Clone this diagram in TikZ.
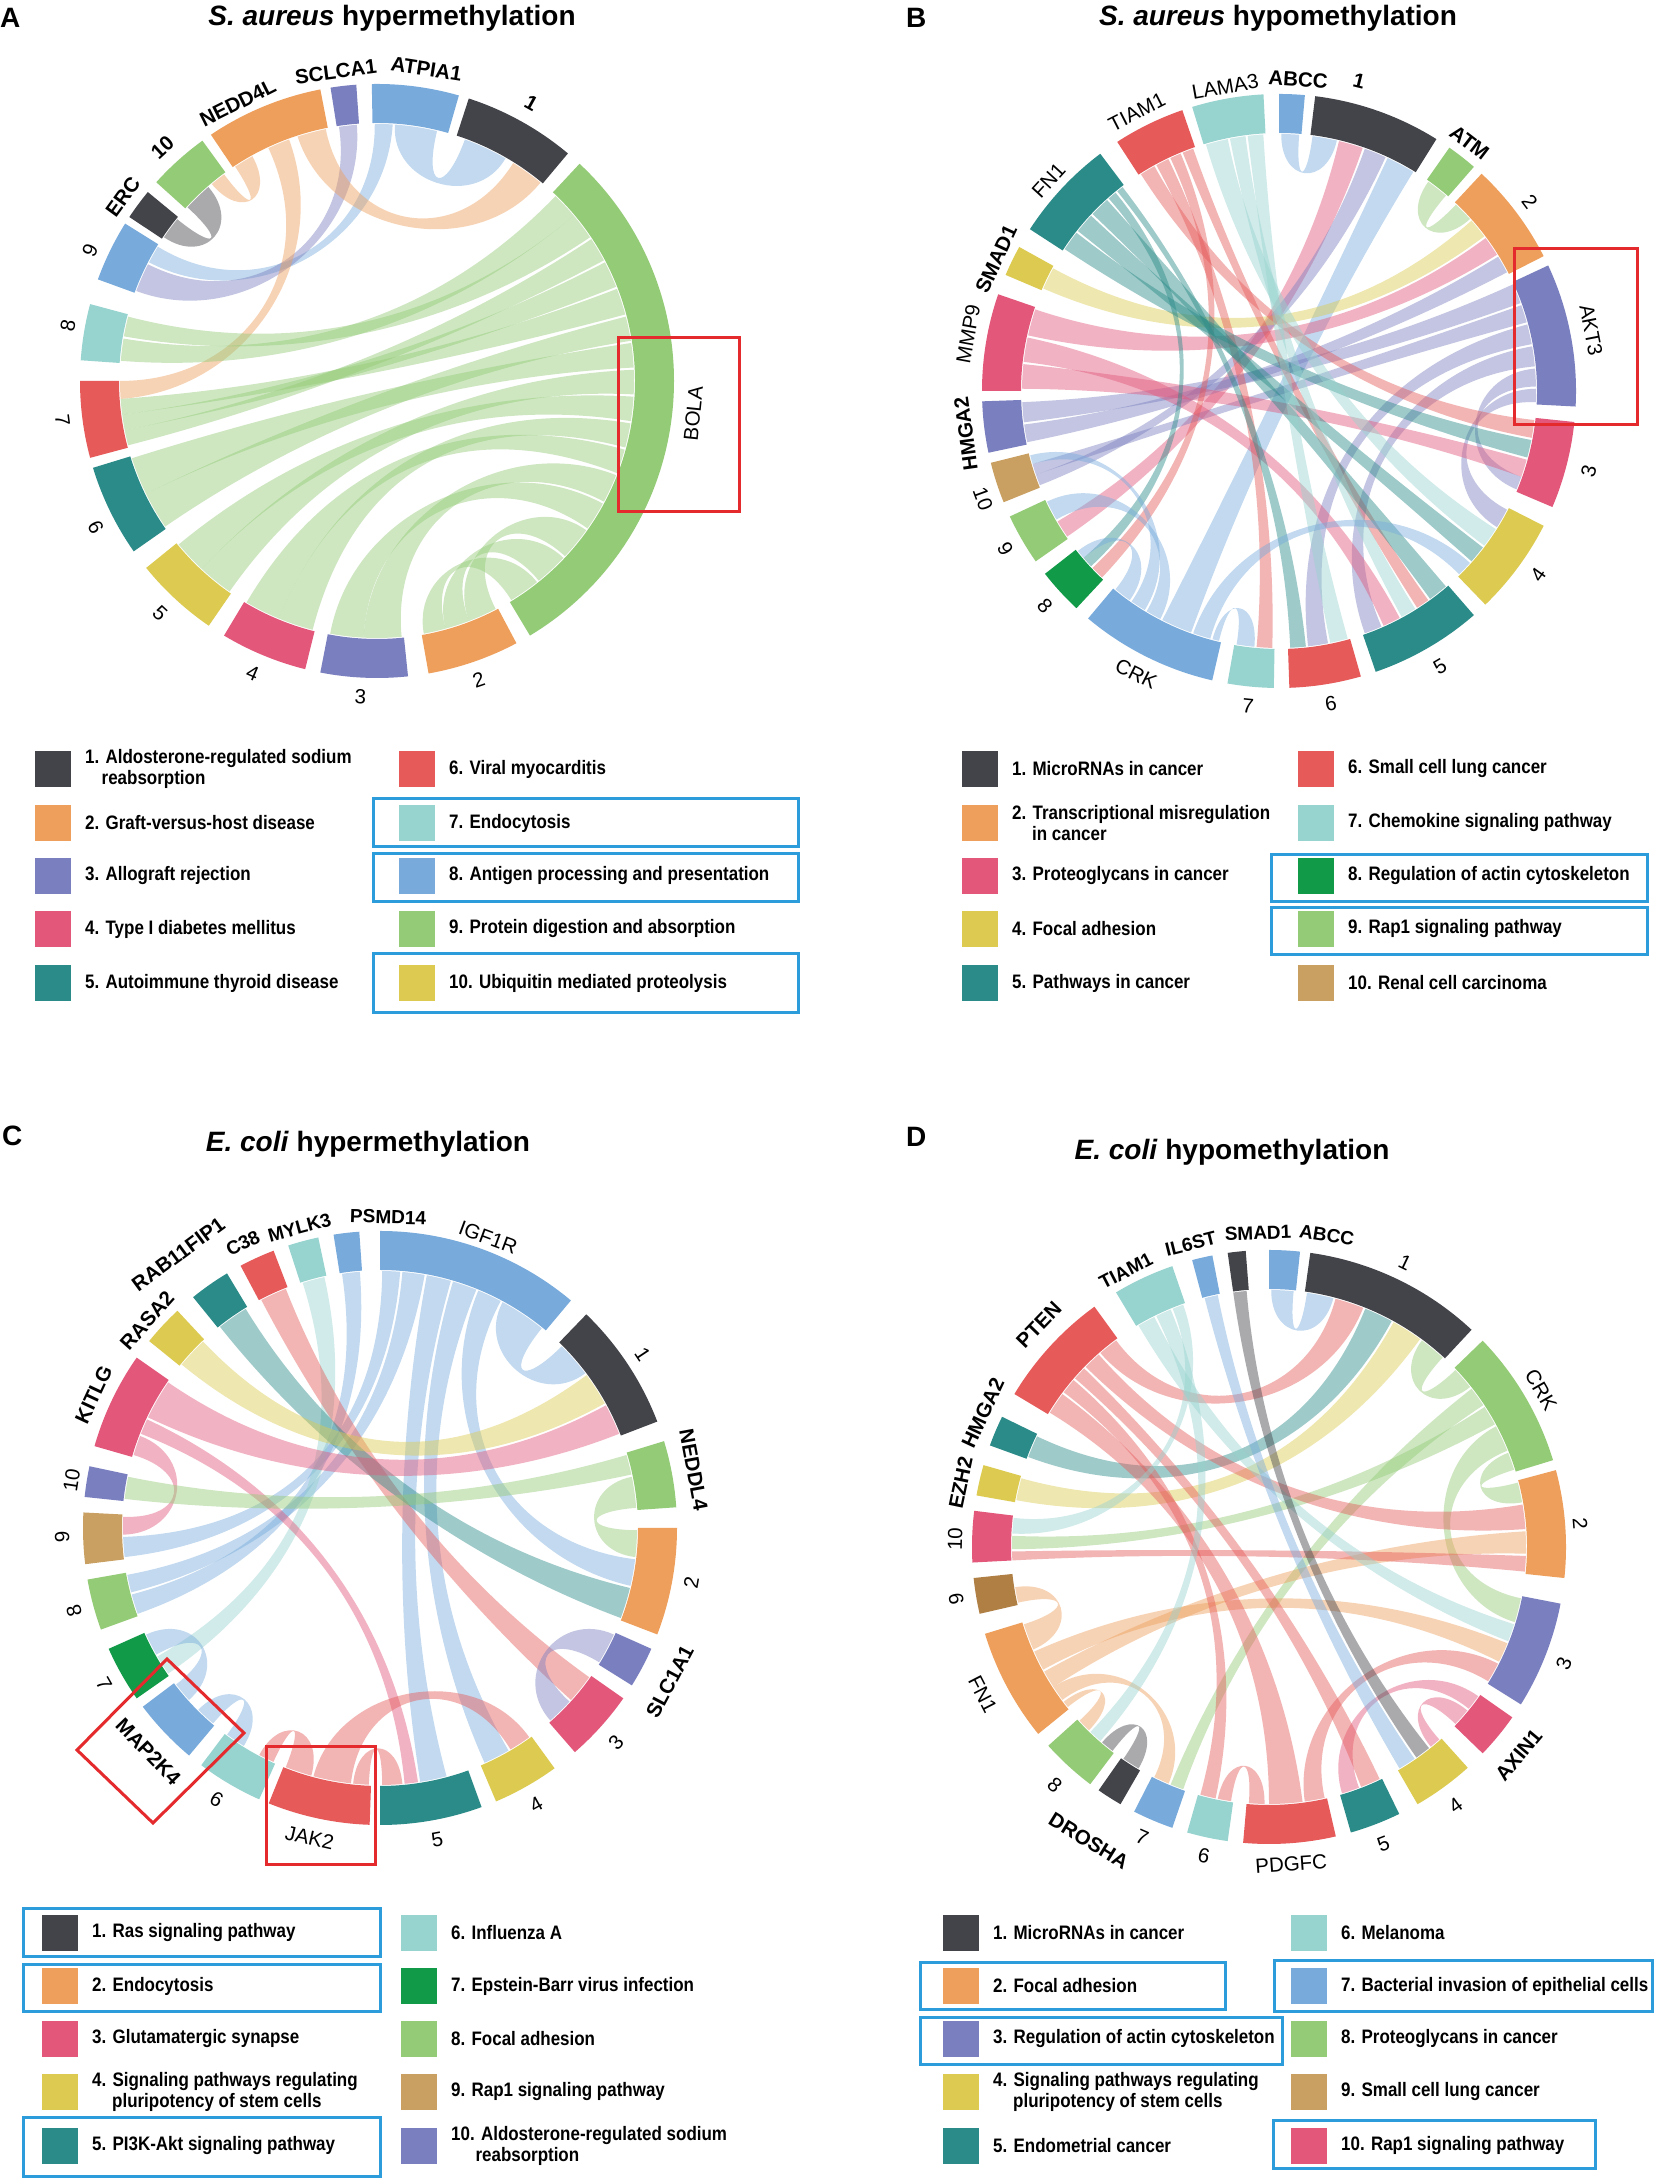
\documentclass[tikz,border=0pt]{standalone}
\usepackage{fontspec}
\setmainfont{Liberation Sans}
\definecolor{cDark}{HTML}{43444A}
\definecolor{cOrange}{HTML}{EE9F5C}
\definecolor{cPurple}{HTML}{7A7FBF}
\definecolor{cPink}{HTML}{E2577A}
\definecolor{cTeal}{HTML}{2A8B88}
\definecolor{cRed}{HTML}{E65A5A}
\definecolor{cLTeal}{HTML}{97D3CF}
\definecolor{cBlue}{HTML}{78ABDC}
\definecolor{cGreen}{HTML}{94CB77}
\definecolor{cYellow}{HTML}{DCCB50}
\definecolor{cDGreen}{HTML}{119A48}
\definecolor{cTan}{HTML}{C9A062}
\definecolor{cBrown}{HTML}{B07F44}
\definecolor{cBox}{HTML}{2D9CDB}
\definecolor{cRedBox}{HTML}{E52A2E}
\def\Rin{258}\def\Rout{297}\def\Rc{257}
\newcommand\seg[3]{\fill[#3] (#1:\Rin) arc[start angle=#1,end angle=#2,radius=\Rin] -- (#2:\Rout) arc[start angle=#2,end angle=#1,radius=\Rout] -- cycle;}
\newcommand\rib[5]{%
 \pgfmathsetmacro\ribd{abs(mod(((#1)+(#2))/2-((#3)+(#4))/2+900,360)-180)}%
 \pgfmathsetmacro\ribk{(0.35+0.5*max(0,1-\ribd/100))*\Rc}%
 \fill[#5,fill opacity=.45] (#1:\Rc) arc[start angle=#1,end angle=#2,radius=\Rc]
   .. controls (#2:\ribk) and (#3:\ribk) .. (#3:\Rc)
   arc[start angle=#3,end angle=#4,radius=\Rc]
   .. controls (#4:\ribk) and (#1:\ribk) .. (#1:\Rc) -- cycle;}
\newcommand\legrow[5]{\fill[#3] ({#1},{#2-18}) rectangle ++(36,36); \node[legtext] (#5) at ({#1+50},{#2}) {#4};}
\tikzset{
 gb/.style={font=\fontsize{20.5}{21}\selectfont\bfseries, inner sep=0pt},
 gr/.style={font=\fontsize{20.5}{21}\selectfont, inner sep=0pt},
 gs/.style={font=\fontsize{19}{20}\selectfont\bfseries, inner sep=0pt},
 ttl/.style={font=\fontsize{28}{30}\selectfont\bfseries, inner sep=0pt},
 legtext/.style={font=\bfseries\fontsize{19.5}{21}\selectfont, xscale=0.87, inner sep=0pt, align=left, anchor=west},
 bluebox/.style={draw=cBox, line width=3pt},
 redbox/.style={draw=cRedBox, line width=3pt},
}
\begin{document}
\begin{tikzpicture}[x=1pt,y=1pt]
\useasboundingbox[fill=white] (0,0) rectangle (1654,2179);

% ================= PANEL A =================
\node[ttl,anchor=west] (lA) at (0,2161) {A};
\node[ttl] (tA) at (392,2161) {\textit{S. aureus} hypermethylation};
\begin{scope}[shift={(377,1798)}]
\rib{86}{76.5}{70}{60}{cBlue}
\rib{90.5}{86.5}{152.5}{148.5}{cBlue}
\rib{98.5}{94.5}{159.5}{153}{cPurple}
\rib{108}{101.5}{58}{50.5}{cOrange}
\rib{115}{110}{-176}{-180}{cOrange}
\rib{123.5}{119}{130}{126.5}{cOrange}
\rib{146}{141}{137.5}{131}{cDark}
\rib{46}{40}{175.5}{170.5}{cGreen}
\rib{40}{34}{170}{165.5}{cGreen}
\rib{33.5}{28}{-165.5}{-169}{cGreen}
\rib{27.5}{21.5}{-169}{-172.5}{cGreen}
\rib{21}{15}{-172.5}{-176}{cGreen}
\rib{14.5}{9}{-145.5}{-154}{cGreen}
\rib{8.5}{3}{-154}{-162.5}{cGreen}
\rib{2.5}{-3}{-125}{-133}{cGreen}
\rib{-3.5}{-9}{-133}{-140.5}{cGreen}
\rib{-9.5}{-15}{-104.5}{-112.5}{cGreen}
\rib{-15.5}{-21}{-112.5}{-120.5}{cGreen}
\rib{-21.5}{-28}{-84.5}{-93}{cGreen}
\rib{-28.5}{-35}{-93}{-100.5}{cGreen}
\rib{-35.5}{-43}{-62.5}{-69}{cGreen}
\rib{-43.5}{-51}{-69}{-74.5}{cGreen}
\rib{-51.5}{-58.5}{-74.5}{-79.5}{cGreen}
\seg{91}{74}{cBlue}
\seg{72}{50}{cDark}
\seg{47}{-59}{cGreen}
\seg{-62}{-80}{cOrange}
\seg{-84}{-101}{cPurple}
\seg{-104}{-121}{cPink}
\seg{-124.5}{-141}{cYellow}
\seg{-145}{-163}{cTeal}
\seg{-165}{-180}{cRed}
\seg{176}{165}{cLTeal}
\seg{160}{148}{cBlue}
\seg{146.5}{140.5}{cDark}
\seg{138}{126}{cGreen}
\seg{124}{101}{cOrange}
\seg{99}{94}{cPurple}
\node[gb,rotate=-29] (A1) at (61:318) {1};
\node[gb,rotate=-9] (Aatp) at (81:316) {ATPIA1};
\node[gb,rotate=7.6] (Ascl) at (97.6:312) {SCLCA1};
\node[gb,rotate=26.6] (Aned) at (116.6:311) {NEDD4L};
\node[gb,rotate=42.6] (A10) at (132.6:317) {10};
\node[gb,rotate=54] (Aerc) at (144:314) {ERC};
\node[gr,rotate=65.6] (A9) at (155.6:315) {9};
\node[gr,rotate=79.8] (A8) at (169.8:314) {8};
\node[gr,rotate=-82.8] (A7) at (-172.8:317) {7};
\node[gr,rotate=-62.5] (A6) at (-152.5:317) {6};
\node[gr,rotate=-43] (A5) at (-133:318) {5};
\node[gr,rotate=-23] (A4) at (-113:318) {4};
\node[gr,rotate=-3] (A3) at (-93:316) {3};
\node[gr,rotate=18.8] (A2) at (-71.2:316) {2};
\node[gr,rotate=84.1] (Abola) at (-5.9:318) {BOLA};
\end{scope}
\draw[redbox] (618,1841) rectangle (739,1667);

% ================= PANEL B =================
\node[ttl,anchor=west] (lB) at (906,2161) {B};
\node[ttl] (tB) at (1278,2161) {\textit{S. aureus} hypomethylation};
\begin{scope}[shift={(1279,1788)}]
\rib{89.5}{85.5}{82.5}{77}{cBlue}
\rib{76.5}{71}{-145.5}{-149.5}{cPink}
\rib{70.5}{65.5}{-158.5}{-161}{cPurple}
\rib{65}{58.5}{-110}{-117}{cBlue}
\rib{54.5}{49.5}{46.5}{42}{cGreen}
\rib{156.5}{151.5}{41.5}{37}{cYellow}
\rib{167.5}{161.5}{36.5}{32}{cPink}
\rib{-168.5}{-172.5}{31.5}{27.5}{cPurple}
\rib{24.5}{20}{-173}{-177.5}{cPurple}
\rib{19.5}{15.5}{-161}{-163.5}{cPurple}
\rib{15}{10.5}{-79}{-83.5}{cPurple}
\rib{10}{5.5}{-66.5}{-70.5}{cPurple}
\rib{5}{1}{-19.5}{-22.5}{cPurple}
\rib{0.5}{-2.5}{-27.5}{-32}{cPurple}
\rib{179.5}{174}{-15.5}{-19.5}{cPink}
\rib{173.5}{168}{-62}{-66}{cPink}
\rib{122.5}{119}{-6.5}{-10.5}{cRed}
\rib{118.5}{115.5}{-91.5}{-95}{cRed}
\rib{115}{112.5}{-133.5}{-136.5}{cRed}
\rib{112}{109.5}{-54.5}{-57.5}{cRed}
\rib{146.5}{142}{-11}{-15}{cTeal}
\rib{141.5}{137}{-37.5}{-41.5}{cTeal}
\rib{136.5}{132}{-49.5}{-54}{cTeal}
\rib{131.5}{129.5}{-137}{-139.5}{cTeal}
\rib{129}{127.5}{-84}{-87.5}{cTeal}
\rib{106.5}{101.5}{-32.5}{-37}{cLTeal}
\rib{101}{97.5}{-58}{-61.5}{cLTeal}
\rib{97}{93.5}{-74.5}{-78.5}{cLTeal}
\rib{-103.5}{-105}{-95.5}{-99.5}{cBlue}
\rib{-105.5}{-109.5}{-42}{-45.5}{cBlue}
\rib{-117.5}{-121}{-150}{-154.5}{cBlue}
\rib{-121.5}{-125}{-163.5}{-165.5}{cBlue}
\rib{-125.5}{-129.5}{-139.5}{-141.5}{cBlue}
\seg{90}{85}{cBlue}
\seg{83}{58}{cDark}
\seg{55}{49}{cGreen}
\seg{47}{27}{cOrange}
\seg{25}{-3}{cPurple}
\seg{-6}{-23}{cPink}
\seg{-27}{-46}{cYellow}
\seg{-49}{-71}{cTeal}
\seg{-74}{-88}{cRed}
\seg{-91}{-100}{cLTeal}
\seg{-103}{-130}{cBlue}
\seg{-133}{-142}{cDGreen}
\seg{-145}{-155}{cGreen}
\seg{-158}{-166}{cTan}
\seg{-168}{-178}{cPurple}
\seg{180}{161}{cPink}
\seg{157}{151}{cYellow}
\seg{147}{127}{cTeal}
\seg{123}{109}{cRed}
\seg{107}{93}{cLTeal}
\node[gb,rotate=-4] (Babcc) at (86.5:312) {ABCC};
\node[gb,rotate=-14] (B1) at (75.5:320) {1};
\node[gb,rotate=-37.5] (Batm) at (52.5:313) {ATM};
\node[gr,rotate=-53] (B2) at (37:314) {2};
\node[gr,rotate=-79] (Bakt) at (11:318) {AKT3};
\node[gr,rotate=75.5] (B3) at (-14.5:320) {3};
\node[gr,rotate=54.6] (B4) at (-35.4:318) {4};
\node[gr,rotate=30.3] (B5) at (-59.7:319) {5};
\node[gr,rotate=9.4] (B6) at (-80.6:317) {6};
\node[gr,rotate=-5.6] (B7) at (-95.6:317) {7};
\node[gr,rotate=-26.8] (Bcrk) at (-116.8:317) {CRK};
\node[gr,rotate=-47.4] (B8) at (-137.4:318) {8};
\node[gr,rotate=-60] (B9) at (-150:316) {9};
\node[gr,rotate=-70] (B10) at (-160:315) {10};
\node[gb,rotate=97.8] (Bhmga) at (-172.2:316) {HMGA2};
\node[gr,rotate=79.6] (Bmmp) at (169.6:316) {MMP9};
\node[gb,rotate=65] (Bsmad) at (155:312) {SMAD1};
\node[gr,rotate=47.6] (Bfn) at (137.6:312) {FN1};
\node[gr,rotate=27] (Btiam) at (117:313) {TIAM1};
\node[gr,rotate=10] (Blama) at (100:309) {LAMA3};
\end{scope}
\draw[redbox] (1514,1930) rectangle (1637,1754);

% ================= PANEL C =================
\node[ttl,anchor=west] (lC) at (2,1043) {C};
\node[ttl] (tC) at (368,1035) {\textit{E. coli} hypermethylation};
\begin{scope}[shift={(380,651)}]
\rib{89.5}{85.5}{186.5}{182}{cBlue}
\rib{85}{80}{-165.5}{-169.5}{cBlue}
\rib{79.5}{74}{-75}{-81}{cBlue}
\rib{73.5}{68}{-60}{-66}{cBlue}
\rib{67.5}{62}{-7}{-13}{cBlue}
\rib{61.5}{51}{45}{37}{cBlue}
\rib{98.5}{94.5}{-160.5}{-165}{cBlue}
\rib{107.5}{102.5}{-145.5}{-150}{cLTeal}
\rib{117.5}{111.5}{-35.5}{-42}{cRed}
\rib{128.5}{121.5}{-13.5}{-20.5}{cTeal}
\rib{140.5}{133.5}{36.5}{29}{cYellow}
\rib{163.5}{159}{181.5}{177.5}{cPink}
\rib{158.5}{155}{-81.5}{-84.5}{cPink}
\rib{154.5}{145.5}{28.5}{21.5}{cPink}
\rib{16.5}{12}{173.5}{168.5}{cGreen}
\rib{11.5}{4.5}{-0.5}{-6.5}{cGreen}
\rib{-24.5}{-31.5}{-42.5}{-48.5}{cPurple}
\rib{-92.5}{-96}{-85}{-89.5}{cRed}
\rib{-96.5}{-105}{-54.5}{-59.5}{cRed}
\rib{-105.5}{-111.5}{-114.5}{-118}{cRed}
\rib{-130.5}{-135}{-122}{-126.5}{cBlue}
\rib{-138}{-142.5}{-150.5}{-155.5}{cBlue}
\seg{90}{50}{cBlue}
\seg{46}{21}{cDark}
\seg{17}{4}{cGreen}
\seg{0}{-21}{cOrange}
\seg{-24}{-32}{cPurple}
\seg{-35}{-49}{cPink}
\seg{-54}{-67}{cYellow}
\seg{-70}{-90}{cTeal}
\seg{-92}{-112}{cRed}
\seg{-114}{-127}{cLTeal}
\seg{-130}{-143}{cBlue}
\seg{-145}{-156}{cDGreen}
\seg{-160}{-170}{cGreen}
\seg{187}{177}{cTan}
\seg{174}{168}{cPurple}
\seg{164}{145}{cPink}
\seg{141}{133}{cYellow}
\seg{129}{121}{cTeal}
\seg{118}{111}{cRed}
\seg{108}{102}{cLTeal}
\seg{99}{94}{cBlue}
\node[gr,rotate=-20.4] (Cigf) at (69.6:310) {IGF1R};
\node[gr,rotate=-56.5] (C1) at (33.5:315) {1};
\node[gb,rotate=-79.5] (Cned) at (10.5:319) {NEDDL4};
\node[gr,rotate=80] (C2) at (-10:316) {2};
\node[gb,rotate=62] (Cslc) at (-27.9:328) {SLC1A1};
\node[gr,rotate=47.7] (C3) at (-42.3:319) {3};
\node[gr,rotate=29.4] (C4) at (-60.6:318) {4};
\node[gr,rotate=10.4] (C5) at (-79.6:317) {5};
\node[gr,rotate=-12.8] (Cjak) at (-102.8:318) {JAK2};
\node[gr,rotate=-31] (C6) at (-121:317) {6};
\node[gb,rotate=-46] (Cmap) at (-136:322) {MAP2K4};
\node[gr,rotate=-60.5] (C7) at (-150.5:317) {7};
\node[gr,rotate=105.2] (C8) at (-164.8:317) {8};
\node[gr,rotate=91.6] (C9) at (-178.4:318) {9};
\node[gr,rotate=81.2] (C10) at (171.2:312) {10};
\node[gb,rotate=65] (Ckit) at (155:316) {KITLG};
\node[gb,rotate=48.3] (Cras) at (138.3:312) {RASA2};
\node[gb,rotate=36.4] (Crab) at (126.4:340) {RAB11FIP1};
\node[gs,rotate=25.7] (Cc38) at (115.7:316) {C38};
\node[gs,rotate=15] (Cmyl) at (105:311) {MYLK3};
\node[gs,rotate=-1.5] (Cpsm) at (88.5:311) {PSMD14};
\end{scope}
\draw[redbox] (266,432) rectangle (375,314);
\draw[redbox] (77,429) -- (167,520) -- (244,446) -- (153,356) -- cycle;

% ================= PANEL D =================
\node[ttl,anchor=west] (lD) at (906,1042) {D};
\node[ttl] (tD) at (1232,1027) {\textit{E. coli} hypomethylation};
\begin{scope}[shift={(1269,632)}]
\rib{89.5}{84.5}{81.5}{75.5}{cBlue}
\rib{131}{126.5}{75}{68.5}{cRed}
\rib{159.5}{154.5}{68}{61.5}{cTeal}
\rib{169.5}{164.5}{61}{54}{cYellow}
\rib{43.5}{38.5}{53.5}{47.5}{cGreen}
\rib{38}{33.5}{-109.5}{-112.5}{cGreen}
\rib{33}{28.5}{180.5}{177.5}{cGreen}
\rib{28}{22}{-11.5}{-17}{cGreen}
\rib{21.5}{17.5}{14.5}{10}{cGreen}
\rib{135.5}{131.5}{9.5}{4}{cRed}
\rib{-147}{-151}{3.5}{-1.5}{cOrange}
\rib{183}{181}{-2}{-5.5}{cRed}
\rib{120.5}{116.5}{-17.5}{-21.5}{cLTeal}
\rib{-151.5}{-156}{-22}{-26.5}{cOrange}
\rib{-77.5}{-82}{-27}{-31.5}{cRed}
\rib{-35.5}{-39}{-69.5}{-73.5}{cPink}
\rib{-39.5}{-43.5}{-48.5}{-51}{cPink}
\rib{98}{95}{-51.5}{-55}{cDark}
\rib{104.5}{101.5}{-55.5}{-59.5}{cBlue}
\rib{139}{136}{-64.5}{-69}{cRed}
\rib{148.5}{143.5}{-82.5}{-90}{cRed}
\rib{143}{139.5}{-102}{-105.5}{cRed}
\rib{-91}{-94.5}{-98.5}{-101.5}{cRed}
\rib{-143.5}{-147}{-113}{-116.5}{cOrange}
\rib{-120.5}{-124.5}{-127.5}{-130.5}{cDark}
\rib{116}{112.5}{-131}{-134}{cLTeal}
\rib{-141.5}{-143}{-134.5}{-137.5}{cOrange}
\rib{-156.5}{-162.5}{192.5}{189}{cOrange}
\rib{112}{109.5}{177}{173.5}{cLTeal}
\seg{90}{84}{cBlue}
\seg{82}{47}{cDark}
\seg{44}{17}{cGreen}
\seg{15}{-6}{cOrange}
\seg{-11}{-32}{cPurple}
\seg{-35}{-44}{cPink}
\seg{-48}{-60}{cYellow}
\seg{-64}{-74}{cTeal}
\seg{-77}{-95}{cRed}
\seg{-98}{-106}{cLTeal}
\seg{-109}{-117}{cBlue}
\seg{-120}{-125}{cDark}
\seg{-127}{-138}{cGreen}
\seg{-141}{-163}{cOrange}
\seg{193}{186}{cBrown}
\seg{183}{173}{cPink}
\seg{170}{164}{cYellow}
\seg{160}{154}{cTeal}
\seg{149}{126}{cRed}
\seg{121}{109}{cLTeal}
\seg{105}{101}{cBlue}
\seg{98}{94.5}{cDark}
\node[gs,rotate=-9] (Dabcc) at (79.5:317) {ABCC};
\node[gr,rotate=-25.6] (D1) at (64.4:315) {1};
\node[gr,rotate=-60] (Dcrk) at (30:314) {CRK};
\node[gr,rotate=-85.7] (D2) at (4.3:312) {2};
\node[gr,rotate=68.5] (D3) at (-21.5:317) {3};
\node[gb,rotate=50.2] (Daxin) at (-39.8:325) {AXIN1};
\node[gr,rotate=35.8] (D4) at (-54.2:319) {4};
\node[gr,rotate=21.1] (D5) at (-68.9:318) {5};
\node[gr,rotate=4] (Dpdg) at (-86:318) {PDGFC};
\node[gr,rotate=-11.9] (D6) at (-101.9:316) {6};
\node[gr,rotate=-23.6] (D7) at (-113.6:317) {7};
\node[gb,rotate=-31.5] (Ddro) at (-121.5:345) {DROSHA};
\node[gr,rotate=-42] (D8) at (-132:320) {8};
\node[gr,rotate=-62.8] (Dfn) at (-152.8:322) {FN1};
\node[gr,rotate=99.4] (D9) at (-170.6:317) {9};
\node[gr,rotate=88.6] (D10) at (178.6:314) {10};
\node[gb,rotate=78.2] (Dezh) at (168.2:315) {EZH2};
\node[gb,rotate=64.9] (Dhmga) at (154.9:316) {HMGA2};
\node[gb,rotate=46] (Dpten) at (136:320) {PTEN};
\node[gs,rotate=27.4] (Dtiam) at (117.4:311) {TIAM1};
\node[gs,rotate=14] (Dil6) at (104.5:313) {IL6ST};
\node[gs,rotate=2] (Dsmad) at (92:314) {SMAD1};
\end{scope}

% ================= LEGENDS =================
% A
\legrow{35}{1410}{cDark}{1. Aldosterone-regulated sodium\\\hspace*{19pt}reabsorption}{LA1}
\legrow{35}{1356}{cOrange}{2. Graft-versus-host disease}{LA2}
\legrow{35}{1303}{cPurple}{3. Allograft rejection}{LA3}
\legrow{35}{1250}{cPink}{4. Type I diabetes mellitus}{LA4}
\legrow{35}{1196}{cTeal}{5. Autoimmune thyroid disease}{LA5}
\legrow{399}{1410}{cRed}{6. Viral myocarditis}{LA6}
\legrow{399}{1356}{cLTeal}{7. Endocytosis}{LA7}
\legrow{399}{1303}{cBlue}{8. Antigen processing and presentation}{LA8}
\legrow{399}{1250}{cGreen}{9. Protein digestion and absorption}{LA9}
\legrow{399}{1196}{cYellow}{10. Ubiquitin mediated proteolysis}{LA10}
\draw[bluebox] (373.5,1380) rectangle (798,1332);
\draw[bluebox] (373.5,1325) rectangle (798,1277);
\draw[bluebox] (373.5,1225) rectangle (798,1166);
% B
\legrow{962}{1410}{cDark}{1. MicroRNAs in cancer}{LB1}
\legrow{962}{1356}{cOrange}{2. Transcriptional misregulation\\\hspace*{23pt}in cancer}{LB2}
\legrow{962}{1303}{cPink}{3. Proteoglycans in cancer}{LB3}
\legrow{962}{1250}{cYellow}{4. Focal adhesion}{LB4}
\legrow{962}{1196}{cTeal}{5. Pathways in cancer}{LB5}
\legrow{1298}{1410}{cRed}{6. Small cell lung cancer}{LB6}
\legrow{1298}{1356}{cLTeal}{7. Chemokine signaling pathway}{LB7}
\legrow{1298}{1303}{cDGreen}{8. Regulation of actin cytoskeleton}{LB8}
\legrow{1298}{1250}{cGreen}{9. Rap1 signaling pathway}{LB9}
\legrow{1298}{1196}{cTan}{10. Renal cell carcinoma}{LB10}
\draw[bluebox] (1271,1324) rectangle (1647,1277);
\draw[bluebox] (1271,1271) rectangle (1647,1224);
% C
\legrow{42}{246}{cDark}{1. Ras signaling pathway}{LC1}
\legrow{42}{193}{cOrange}{2. Endocytosis}{LC2}
\legrow{42}{140}{cPink}{3. Glutamatergic synapse}{LC3}
\legrow{42}{87}{cYellow}{4. Signaling pathways regulating\\\hspace*{23pt}pluripotency of stem cells}{LC4}
\legrow{42}{33}{cTeal}{5. PI3K-Akt signaling pathway}{LC5}
\legrow{401}{246}{cLTeal}{6. Influenza A}{LC6}
\legrow{401}{193}{cDGreen}{7. Epstein-Barr virus infection}{LC7}
\legrow{401}{140}{cGreen}{8. Focal adhesion}{LC8}
\legrow{401}{87}{cTan}{9. Rap1 signaling pathway}{LC9}
\legrow{401}{33}{cPurple}{10. Aldosterone-regulated sodium\\\hspace*{28pt}reabsorption}{LC10}
\draw[bluebox] (23,270) rectangle (380,222);
\draw[bluebox] (23,214) rectangle (380,167);
\draw[bluebox] (23,61) rectangle (380,2);
% D
\legrow{943}{246}{cDark}{1. MicroRNAs in cancer}{LD1}
\legrow{943}{193}{cOrange}{2. Focal adhesion}{LD2}
\legrow{943}{140}{cPurple}{3. Regulation of actin cytoskeleton}{LD3}
\legrow{943}{87}{cYellow}{4. Signaling pathways regulating\\\hspace*{23pt}pluripotency of stem cells}{LD4}
\legrow{943}{33}{cTeal}{5. Endometrial cancer}{LD5}
\legrow{1291}{246}{cLTeal}{6. Melanoma}{LD6}
\legrow{1291}{193}{cBlue}{7. Bacterial invasion of epithelial cells}{LD7}
\legrow{1291}{140}{cGreen}{8. Proteoglycans in cancer}{LD8}
\legrow{1291}{87}{cTan}{9. Small cell lung cancer}{LD9}
\legrow{1291}{33}{cPink}{10. Rap1 signaling pathway}{LD10}
\draw[bluebox] (920,216) rectangle (1225,169);
\draw[bluebox] (920,161) rectangle (1282,114);
\draw[bluebox] (1274,218) rectangle (1652,167);
\draw[bluebox] (1273,58) rectangle (1595,10);
\end{tikzpicture}
\end{document}
